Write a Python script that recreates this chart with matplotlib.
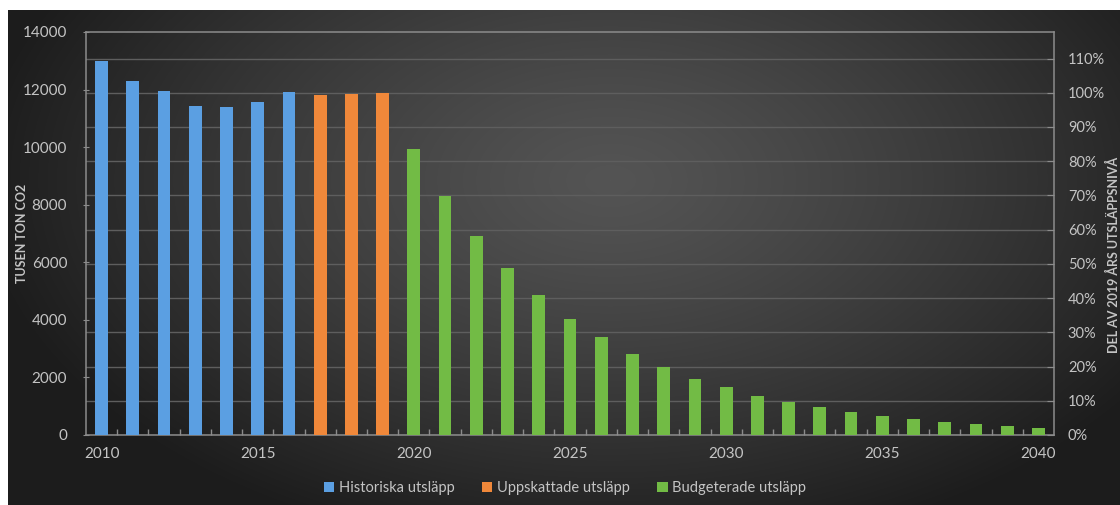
import numpy as np
import matplotlib
matplotlib.use("Agg")
import matplotlib.pyplot as plt
from matplotlib.patches import Patch

# ---- data ----
years = list(range(2010, 2041))
historiska = [13000, 12300, 11950, 11420, 11400, 11560, 11900]            # 2010-2016
uppskattade = [11820, 11850, 11890]                                         # 2017-2019
budgeterade = [9950, 8300, 6930, 5800, 4850, 4040, 3390, 2810, 2345, 1955,
               1655, 1370, 1140, 960, 800, 660, 565, 465, 385, 312, 258]   # 2020-2040
series_names = ["Historiska utsläpp", "Uppskattade utsläpp", "Budgeterade utsläpp"]
series_colors = ["#5b9fe2", "#f0883a", "#72bb45"]
xtick_labels = ["2010", "2015", "2020", "2025", "2030", "2035", "2040"]
left_ticks = [0, 2000, 4000, 6000, 8000, 10000, 12000, 14000]
right_ticks_pct = [0, 10, 20, 30, 40, 50, 60, 70, 80, 90, 100, 110]
base_2019 = uppskattade[-1]

plt.rcParams['font.family'] = ['Lato', 'DejaVu Sans']

W, H = 1120, 505
fig = plt.figure(figsize=(W / 100, H / 100), dpi=100)

# ---- background (radial gradient) ----
bg = fig.add_axes([0, 0, 1, 1], zorder=-10)
yy, xx = np.mgrid[0:H, 0:W]
r = np.sqrt(((xx - 610) / 600.0) ** 2 + ((yy - 180) / 360.0) ** 2)
val = 84 - 52 * np.clip(r, 0, 1.25) ** 1.25
val = np.clip(val, 28, 90) / 255.0
img = np.dstack([val, val, val])
img[:10, :, :] = 1.0
img[:, :8, :] = 1.0
bg.imshow(img, extent=[0, W, H, 0], aspect='auto', interpolation='bilinear')
bg.set_xlim(0, W)
bg.set_ylim(H, 0)
bg.axis('off')

# ---- main axes ----
ax = fig.add_axes([86 / W, 1 - 435 / H, (1054 - 86) / W, (435 - 32) / H])
ax.patch.set_alpha(0)

n_h = len(historiska)
n_u = len(uppskattade)
x_h = np.arange(0, n_h)
x_u = np.arange(n_h, n_h + n_u)
x_b = np.arange(n_h + n_u, n_h + n_u + len(budgeterade))
bw = 0.41
ax.bar(x_h, historiska, width=bw, color=series_colors[0], zorder=3)
ax.bar(x_u, uppskattade, width=bw, color=series_colors[1], zorder=3)
ax.bar(x_b, budgeterade, width=bw, color=series_colors[2], zorder=3)

ax.set_xlim(-0.5, len(years) - 0.5)
ax.set_ylim(0, 14000)
ax.set_yticks(left_ticks)
ax.set_yticklabels([str(t) for t in left_ticks])
tick_pos = [years.index(int(l)) for l in xtick_labels]
ax.set_xticks(tick_pos)
ax.set_xticklabels(xtick_labels)
ax.set_xticks(np.arange(0.5, len(years) - 0.5, 1.0), minor=True)

lab_col = "#c4c4c4"
spine_col = "#8c8c8c"
ax.tick_params(axis='x', which='major', length=0, pad=9, labelsize=11, labelcolor=lab_col)
ax.tick_params(axis='x', which='minor', direction='in', length=4, color=spine_col, width=1)
ax.tick_params(axis='y', which='major', direction='inout', length=5, color=spine_col,
               pad=11, labelsize=11, labelcolor=lab_col)
for s in ax.spines.values():
    s.set_color(spine_col)
    s.set_linewidth(1.1)

ax.set_ylabel("TUSEN TON CO2", color=lab_col, fontsize=9, fontweight='bold')
ax.yaxis.set_label_coords((28 - 86) / 968, 0.5)

# ---- secondary axis (share of 2019 level) ----
ax2 = ax.twinx()
ax2.set_ylim(0, 14000 / base_2019)
ax2.set_yticks([p / 100 for p in right_ticks_pct])
ax2.set_yticklabels([f"{p}%" for p in right_ticks_pct])
ax2.tick_params(axis='y', direction='in', length=5, color=spine_col, pad=10,
                labelsize=10.5, labelcolor=lab_col)
for s in ax2.spines.values():
    s.set_visible(False)
ax2.grid(axis='y', color="#5e5e5e", linewidth=1.0, zorder=0)
ax2.set_axisbelow(True)
ax2.set_zorder(ax.get_zorder() - 1)
ax2.patch.set_visible(False)
ax.set_zorder(ax2.get_zorder() + 1)

fig.text(1113 / W, 1 - 255 / H, "DEL AV 2019 ÅRS UTSLÄPPSNIVÅ", rotation=90,
         ha='center', va='center', color=lab_col, fontsize=9, fontweight='bold')

# ---- legend ----
handles = [Patch(facecolor=c, edgecolor='none') for c in series_colors]
leg = fig.legend(handles, series_names, loc='center', bbox_to_anchor=(565 / W, 1 - 488 / H),
                 ncol=3, frameon=False, fontsize=10.5, handlelength=0.7, handleheight=0.7,
                 handletextpad=0.3, columnspacing=1.9)
for t in leg.get_texts():
    t.set_color(lab_col)

fig.savefig("out.png", dpi=100)
